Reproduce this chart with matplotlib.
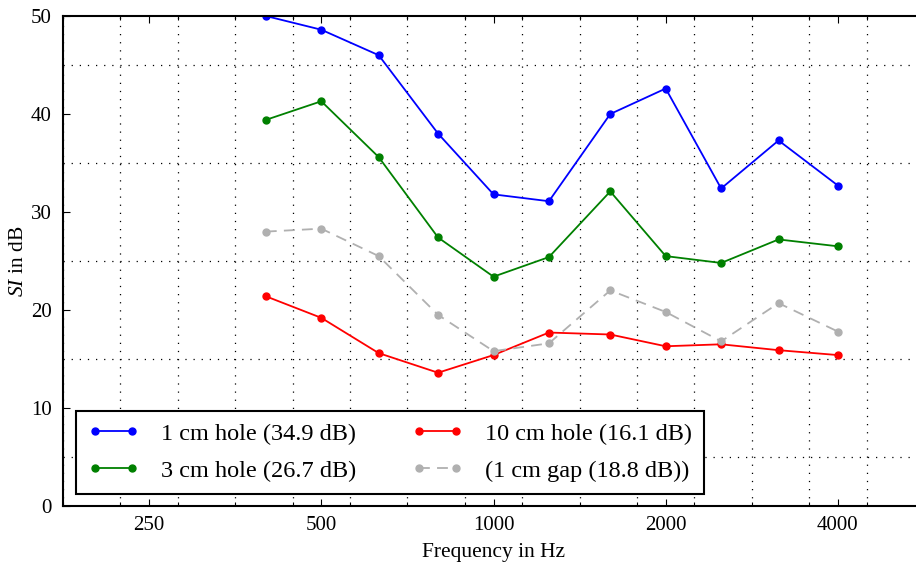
import numpy as np
import matplotlib
matplotlib.use("Agg")
from matplotlib import pyplot as plt
from matplotlib.ticker import NullFormatter

plt.rcParams['font.family'] = ['Liberation Serif', 'DejaVu Serif']
plt.rcParams['mathtext.fontset'] = 'custom'
plt.rcParams['mathtext.rm'] = 'Liberation Serif'
plt.rcParams['mathtext.it'] = 'Liberation Serif:italic'

freq = [400, 500, 630, 800, 1000, 1250, 1600, 2000, 2500, 3150, 4000]
hole_1cm = [50.0, 48.6, 46.0, 38.0, 31.8, 31.1, 40.0, 42.6, 32.4, 37.3, 32.7]
hole_3cm = [39.4, 41.3, 35.6, 27.4, 23.4, 25.4, 32.1, 25.5, 24.8, 27.2, 26.5]
hole_10cm = [21.4, 19.2, 15.6, 13.6, 15.4, 17.7, 17.5, 16.3, 16.5, 15.9, 15.4]
gap_1cm = [28.0, 28.3, 25.5, 19.5, 15.8, 16.6, 22.0, 19.8, 16.8, 20.7, 17.8]

labels = ["1 cm hole (34.9 dB)", "3 cm hole (26.7 dB)",
          "10 cm hole (16.1 dB)", "(1 cm gap (18.8 dB))"]

xticks = [250, 500, 1000, 2000, 4000]
yticks = [0, 10, 20, 30, 40, 50]

fig = plt.figure(figsize=(9.16, 5.68), dpi=100)
ax = fig.add_axes([63 / 916, 62 / 568, 861 / 916, 490 / 568])

ax.plot(freq, hole_1cm, '-o', color='#0000ff', lw=1.3, ms=5, label=labels[0])
ax.plot(freq, hole_3cm, '-o', color='#008000', lw=1.3, ms=5, label=labels[1])
ax.plot(freq, hole_10cm, '-o', color='#ff0000', lw=1.3, ms=5, label=labels[2])
ax.plot(freq, gap_1cm, '--o', color='#b0b0b0', lw=1.3, ms=5, dashes=(6, 4), label=labels[3])

ax.set_xscale('log')
ax.set_xticks(xticks, [str(t) for t in xticks])
# grid at third-octave band edges
edges = 250 * 2 ** (np.arange(-1, 14) / 3 - 1 / 6)
ax.set_xticks(edges, minor=True)
ax.xaxis.set_minor_formatter(NullFormatter())
ax.set_yticks(yticks)
ax.set_yticks(np.arange(0, 51, 5), minor=True)
ax.set_xlim(250 / np.sqrt(2), 4000 * np.sqrt(2))
ax.set_ylim(0, 50)

ax.tick_params(axis='both', which='major', direction='in', top=True, labelsize=15, length=5, width=0.8)
ax.tick_params(axis='x', which='major', pad=7)
ax.tick_params(axis='y', which='major', pad=8)
ax.tick_params(axis='x', which='minor', direction='in', top=True, length=3, width=0.8)
ax.tick_params(axis='y', which='minor', length=0)
ax.grid(False, which='major', axis='x')
ax.grid(True, which='minor', axis='both', color='black', lw=0.9, linestyle=(0, (1, 5.5)))

for s in ax.spines.values():
    s.set_linewidth(1.5)

ax.set_xlabel("Frequency in Hz", fontsize=15.5, labelpad=6)
ax.set_ylabel("$SI$ in dB", fontsize=15.5)
ax.yaxis.set_label_coords(-0.041, 0.5)

leg = ax.legend(loc='lower left', bbox_to_anchor=(0.015, 0.025), borderaxespad=0,
                ncol=2, numpoints=2, fontsize=17.5, fancybox=False, framealpha=1,
                edgecolor='black', handlelength=2.1, columnspacing=2.3, handletextpad=0.9,
                borderpad=0.5, labelspacing=0.6)
leg.get_frame().set_linewidth(1.5)

fig.savefig("out.png", dpi=100)
